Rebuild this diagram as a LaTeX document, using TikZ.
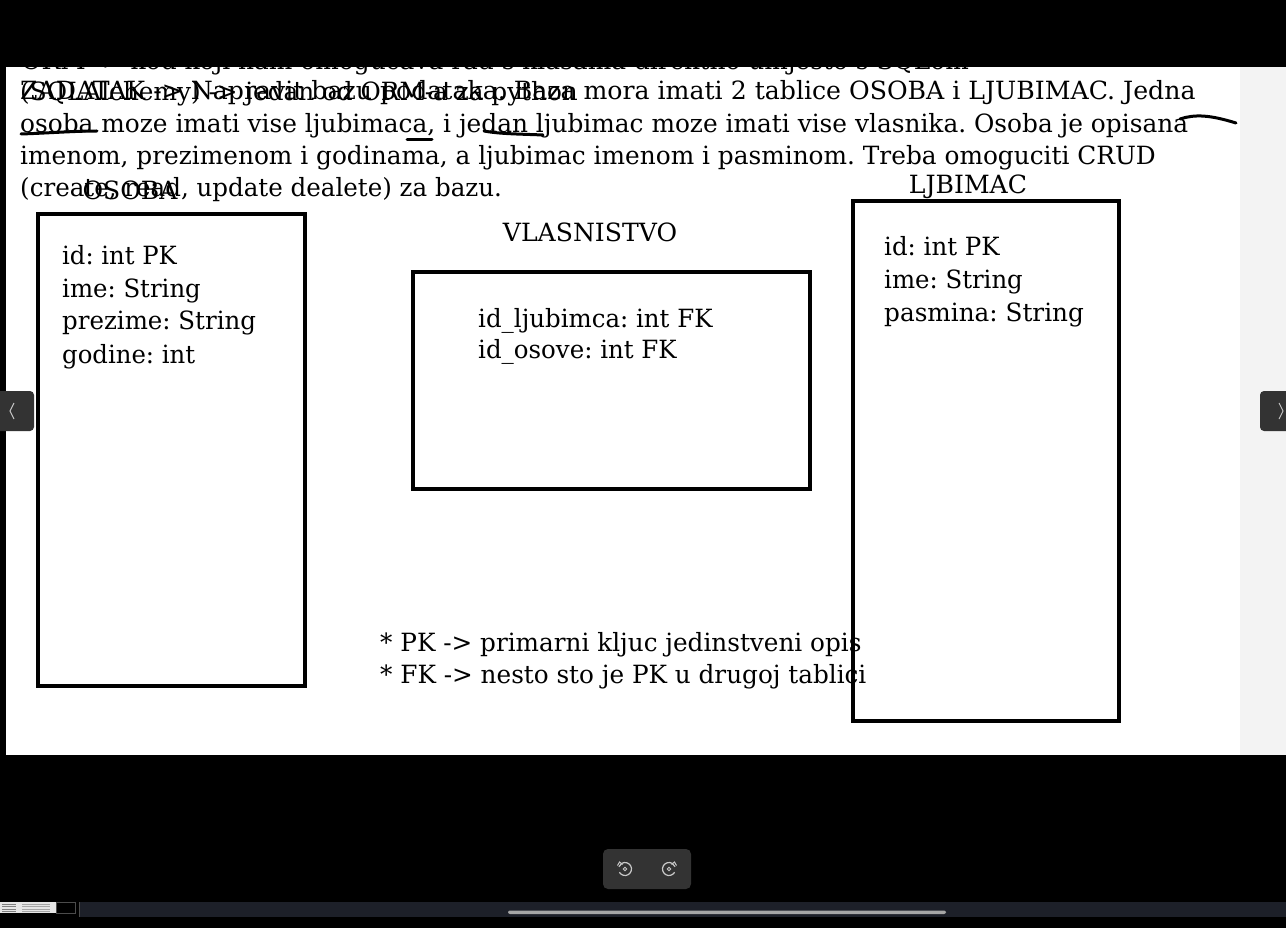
\documentclass[tikz,border=0pt]{standalone}
\usepackage{graphicx}
\usepackage{fontspec}
\setmainfont{DejaVu Serif}
\usetikzlibrary{arrows.meta}
\definecolor{btngray}{HTML}{333333}
\definecolor{sidegray}{HTML}{F3F3F3}
\definecolor{chev}{HTML}{C8C8C8}
\definecolor{stripnavy}{HTML}{1D2029}
\definecolor{thumb}{HTML}{E6E6E6}
\frenchspacing
\newcommand{\hsq}[2]{\scalebox{#1}[1]{#2}}
\begin{document}
\begin{tikzpicture}[x=1pt,y=-1pt,
  txt/.style={anchor=base west, inner sep=0pt, font=\fontsize{25.1}{30}\selectfont\frenchspacing},
  lbl/.style={anchor=base, inner sep=0pt, font=\fontsize{25.1}{30}\selectfont\frenchspacing},
  tbox/.style={draw=black, line width=3.2pt},
  pen/.style={draw=black, line width=3pt, line cap=round},
  btn/.style={fill=btngray, rounded corners=5pt}]
\useasboundingbox (0,0) rectangle (1286,928);
% background
\fill[black] (0,0) rectangle (1286,928);
\fill[white] (6,67) rectangle (1240,755);
\fill[sidegray] (1240,67) rectangle (1286,755);

% paragraph text
\node[txt] (l0) at (21,70) {\hsq{0.99}{ORM -> kod koji nam omogucava rad s klasama direktno umjesto s SQLom}};
\node[txt] (l1b) at (20,101) {\hsq{0.985}{(SQLAlchemy) -> jedan od ORM-a za python}};
\node[txt] (l1) at (20,100) {\hsq{1.003}{ZADATAK -> Napravit bazu podataka. Baza mora imati 2 tablice OSOBA i LJUBIMAC. Jedna}};
\node[txt] (l2) at (20,133) {\hsq{0.989}{osoba moze imati vise ljubimaca, i jedan ljubimac moze imati vise vlasnika. Osoba je opisana}};
\node[txt] (l3) at (20,165) {\hsq{0.988}{imenom, prezimenom i godinama, a ljubimac imenom i pasminom. Treba omoguciti CRUD}};
\node[txt] (l4) at (20,197) {\hsq{0.978}{(create, read, update dealete) za bazu.}};

% top band clips first line
\fill[black] (0,0) rectangle (1286,67);

% hand-drawn strokes
\coordinate (u1a) at (21,134); \coordinate (u1b) at (97,131);
\draw[pen] (u1a) .. controls (50,133) and (75,131) .. (u1b);
\coordinate (u2a) at (407,140); \coordinate (u2b) at (432,140);
\draw[pen] (u2a) -- (u2b);
\coordinate (u3a) at (484,131); \coordinate (u3b) at (543,135);
\draw[pen] (u3a) .. controls (500,134) and (520,134) .. (u3b);
\coordinate (u4a) at (1180,119); \coordinate (u4b) at (1236,123);
\draw[pen] (u4a) .. controls (1195,114) and (1210,115) .. (u4b);

% tables
\node[lbl] (osobaT) at (130,200) {OSOBA};
\draw[tbox] (38,214) rectangle (305,686);
\node[txt] (o1) at (62,265) {\hsq{0.968}{id: int PK}};
\node[txt] (o2) at (62,298) {\hsq{0.972}{ime: String}};
\node[txt] (o3) at (62,330) {\hsq{0.975}{prezime: String}};
\node[txt] (o4) at (62,363) {\hsq{0.971}{godine: int}};

\node[lbl] (vlT) at (590,242) {VLASNISTVO};
\draw[tbox] (413,272) rectangle (810,489);
\node[txt] (v1) at (478,327) {\hsq{0.975}{id\_ljubimca: int FK}};
\node[txt] (v2) at (478,359) {\hsq{0.975}{id\_osove: int FK}};

\node[lbl] (ljT) at (968,194) {LJBIMAC};
\draw[tbox] (853,201) rectangle (1119,721);
\node[txt] (j1) at (884,256) {\hsq{0.975}{id: int PK}};
\node[txt] (j2) at (884,289) {\hsq{0.972}{ime: String}};
\node[txt] (j3) at (884,321) {\hsq{0.985}{pasmina: String}};

\node[txt] (n1) at (380,651) {\hsq{0.984}{* PK -> primarni kljuc jedinstveni opis}};
\node[txt] (n2) at (380,683) {\hsq{0.984}{* FK -> nesto sto je PK u drugoj tablici}};

% side buttons
\fill[btngray, rounded corners=4pt] (-8,391) rectangle (34,431);
\draw[chev, line width=0.9pt] (14,403) -- (10,411) -- (14,419);
\fill[btngray, rounded corners=4pt] (1260,391) rectangle (1296,431);
\draw[chev, line width=0.9pt] (1279,403) -- (1283,411) -- (1279,419);

% bottom toolbar
\fill[btngray, rounded corners=5pt] (603,849) rectangle (691,889);
\draw[chev, line width=1.2pt] (625,869) ++(150:6.5) arc[start angle=150, end angle=-160, radius=6.5];
\draw[chev, line width=1pt] (617.5,865.5) -- (619.5,862) -- (622.5,864.5);
\draw[chev, line width=0.9pt] (625,869) circle (1.7);
\draw[chev, line width=1.2pt] (669,869) ++(30:6.5) arc[start angle=30, end angle=340, radius=6.5];
\draw[chev, line width=1pt] (676.5,865.5) -- (674.5,862) -- (671.5,864.5);
\draw[chev, line width=0.9pt] (669,869) circle (1.7);

% bottom strip
\fill[stripnavy] (80,902) rectangle (1286,917);
\fill[thumb] (0,902) rectangle (56,913);
\foreach \yy in {904,906.5,909,911} {\draw[gray, line width=0.5pt] (2,\yy) -- (16,\yy); \draw[gray!70, line width=0.4pt] (22,\yy) -- (50,\yy);}
\draw[gray!60!black, line width=0.8pt] (56.5,902.5) rectangle (75,913);
\draw[gray!60!black, line width=1pt] (79.5,902) -- (79.5,917);
\fill[gray!70, rounded corners=2pt] (508,910.5) rectangle (946,914);
\end{tikzpicture}
\end{document}
